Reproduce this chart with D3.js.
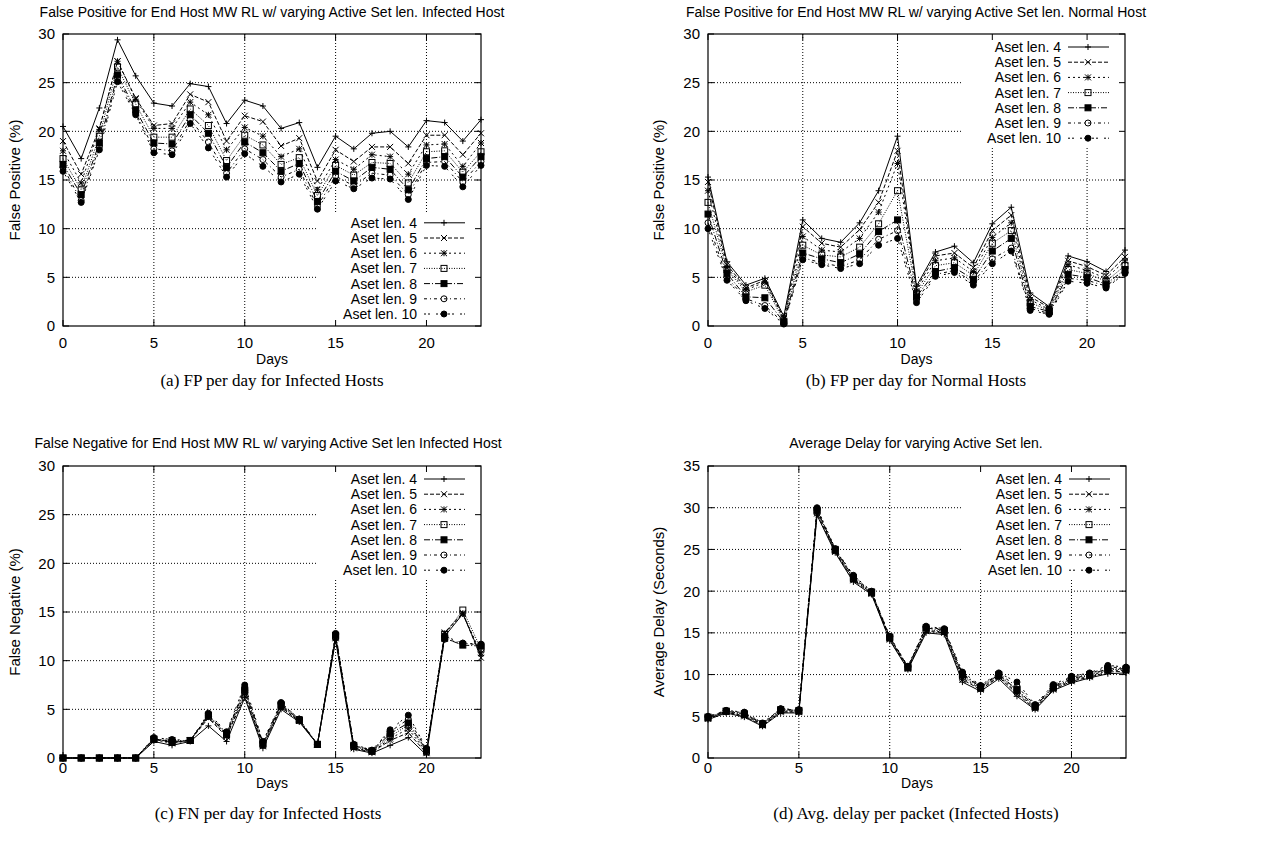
<!DOCTYPE html>
<html>
<head>
<meta charset="utf-8">
<script src="https://cdn.jsdelivr.net/npm/d3@7"></script>
<style>
  body { margin: 0; background: #fff; }
  svg { display: block; }
  text { font-family: "Liberation Sans", Arial, Helvetica, sans-serif; fill: #000; }
  .caption { font-family: "Liberation Serif", "Times New Roman", serif; }
</style>
</head>
<body>
<div id="chart"></div>
<script>
// series names, one per active set length
const asetLabels = ["Aset len. 4", "Aset len. 5", "Aset len. 6", "Aset len. 7", "Aset len. 8", "Aset len. 9", "Aset len. 10"];

const days24 = [0, 1, 2, 3, 4, 5, 6, 7, 8, 9, 10, 11, 12, 13, 14, 15, 16, 17, 18, 19, 20, 21, 22, 23];
const days23 = [0, 1, 2, 3, 4, 5, 6, 7, 8, 9, 10, 11, 12, 13, 14, 15, 16, 17, 18, 19, 20, 21, 22];

const xTicks = [0, 5, 10, 15, 20];
const yTicks30 = [0, 5, 10, 15, 20, 25, 30];
const yTicks35 = [0, 5, 10, 15, 20, 25, 30, 35];

// (a) false positive, infected hosts (rows: aset 4..10)
const fpInfected = [
  [20.5, 17.2, 22.4, 29.4, 25.7, 22.9, 22.6, 24.9, 24.6, 20.8, 23.2, 22.6, 20.3, 20.9, 16.3, 19.5, 18.2, 19.8, 20.0, 18.4, 21.1, 20.9, 19.0, 21.2],
  [19.0, 15.6, 20.3, 27.2, 23.4, 20.6, 20.8, 23.8, 23.0, 19.0, 21.6, 21.0, 18.5, 19.3, 14.9, 18.1, 16.9, 18.4, 18.4, 16.7, 19.6, 19.6, 17.6, 19.8],
  [18.0, 14.7, 20.2, 27.2, 23.3, 20.3, 20.3, 23.0, 21.7, 18.1, 20.4, 19.5, 17.4, 18.2, 14.0, 17.1, 16.1, 17.6, 17.4, 15.6, 18.6, 18.7, 16.4, 18.8],
  [17.2, 14.0, 19.5, 26.6, 22.8, 19.4, 19.4, 22.3, 20.6, 17.0, 19.6, 18.6, 16.6, 17.3, 13.4, 16.5, 15.5, 16.8, 16.7, 14.7, 17.9, 18.0, 15.8, 17.9],
  [16.6, 13.5, 18.8, 25.8, 22.2, 18.8, 18.7, 21.7, 19.8, 16.3, 18.9, 17.8, 15.9, 16.7, 12.8, 15.9, 14.9, 16.3, 16.1, 14.0, 17.2, 17.4, 15.3, 17.4],
  [16.3, 12.9, 18.4, 25.5, 21.9, 18.2, 18.0, 21.2, 18.9, 15.7, 18.2, 17.1, 15.3, 16.1, 12.3, 15.4, 14.4, 15.7, 15.5, 13.5, 16.8, 16.9, 14.8, 16.9],
  [15.9, 12.7, 18.1, 25.1, 21.7, 17.8, 17.6, 20.8, 18.3, 15.3, 17.7, 16.4, 14.8, 15.6, 12.0, 14.9, 14.1, 15.2, 15.1, 13.0, 16.5, 16.4, 14.3, 16.5]
];

// (b) false positive, normal hosts
const fpNormal = [
  [15.3, 6.6, 4.2, 4.9, 1.0, 10.9, 9.0, 8.6, 10.6, 13.9, 19.5, 4.1, 7.6, 8.2, 6.5, 10.5, 12.2, 3.4, 2.0, 7.2, 6.6, 5.6, 7.8],
  [14.8, 6.3, 3.9, 4.7, 0.8, 10.2, 8.5, 8.1, 9.9, 12.7, 18.0, 3.9, 7.2, 7.5, 6.0, 9.8, 11.4, 3.0, 1.9, 6.7, 6.1, 5.2, 7.1],
  [13.9, 6.0, 3.7, 4.5, 0.7, 9.2, 7.8, 7.6, 9.0, 11.7, 16.7, 3.6, 6.7, 7.0, 5.6, 9.1, 10.6, 2.7, 1.7, 6.3, 5.7, 4.9, 6.7],
  [12.7, 5.8, 3.5, 4.2, 0.5, 8.3, 7.3, 7.1, 8.1, 10.5, 13.9, 3.3, 6.2, 6.5, 5.2, 8.5, 9.8, 2.4, 1.6, 5.8, 5.4, 4.6, 6.2],
  [11.5, 5.4, 3.0, 2.9, 0.4, 7.5, 6.9, 6.5, 7.4, 9.7, 10.9, 3.0, 5.6, 6.0, 4.8, 7.7, 9.0, 2.0, 1.5, 5.3, 5.0, 4.3, 5.8],
  [10.6, 5.0, 2.8, 2.1, 0.3, 7.0, 6.5, 6.1, 6.8, 8.9, 9.8, 2.7, 5.3, 5.7, 4.5, 6.9, 8.0, 1.8, 1.3, 4.9, 4.7, 4.1, 5.5],
  [10.0, 4.7, 2.6, 1.8, 0.2, 6.8, 6.3, 5.9, 6.4, 8.3, 9.0, 2.4, 5.1, 5.5, 4.2, 6.4, 7.7, 1.6, 1.2, 4.6, 4.4, 3.9, 5.4]
];

// (c) false negative, infected hosts
const fnInfected = [
  [0, 0, 0, 0, 0, 1.7, 1.3, 1.7, 3.3, 1.7, 6.2, 1.0, 5.0, 3.7, 1.4, 12.1, 0.9, 0.5, 1.3, 2.1, 0.3, 12.5, 14.8, 10.5],
  [0, 0, 0, 0, 0, 2.0, 1.6, 1.8, 4.1, 2.2, 6.4, 1.2, 5.2, 3.8, 1.4, 12.3, 1.0, 0.6, 1.8, 2.6, 0.5, 12.9, 14.9, 10.3],
  [0, 0, 0, 0, 0, 1.9, 1.5, 1.8, 4.2, 2.3, 6.6, 1.3, 5.3, 3.8, 1.4, 12.4, 1.1, 0.6, 2.0, 3.0, 0.6, 12.8, 14.8, 10.8],
  [0, 0, 0, 0, 0, 1.9, 1.8, 1.8, 4.3, 2.4, 6.8, 1.4, 5.4, 3.9, 1.4, 12.5, 1.2, 0.7, 2.2, 3.4, 0.7, 12.7, 15.2, 11.2],
  [0, 0, 0, 0, 0, 1.9, 1.6, 1.8, 4.4, 2.5, 7.0, 1.5, 5.5, 3.9, 1.4, 12.6, 1.3, 0.7, 2.5, 3.6, 0.8, 12.3, 11.6, 11.5],
  [0, 0, 0, 0, 0, 2.0, 1.7, 1.8, 4.4, 2.6, 7.2, 1.6, 5.6, 4.0, 1.4, 12.7, 1.3, 0.8, 2.7, 4.0, 0.9, 12.2, 11.8, 11.6],
  [0, 0, 0, 0, 0, 2.1, 1.9, 1.8, 4.6, 2.7, 7.5, 1.7, 5.7, 4.0, 1.4, 12.8, 1.4, 0.8, 2.9, 4.4, 1.0, 12.5, 11.8, 11.7]
];

// (d) average delay per packet, seconds
const avgDelay = [
  [4.6, 5.4, 4.9, 3.8, 5.4, 5.4, 29.1, 24.6, 21.1, 19.6, 14.1, 10.6, 15.0, 14.8, 9.1, 8.0, 9.5, 7.4, 5.8, 8.1, 9.0, 9.6, 10.1, 10.2],
  [4.7, 5.5, 5.0, 3.9, 5.5, 5.5, 29.3, 24.7, 21.3, 19.7, 14.2, 10.7, 15.2, 15.0, 9.4, 8.2, 9.7, 7.7, 5.9, 8.2, 9.2, 9.7, 10.3, 10.4],
  [4.8, 5.5, 5.1, 4.0, 5.6, 5.6, 29.5, 24.8, 21.4, 19.8, 14.3, 10.8, 15.3, 15.1, 9.6, 8.3, 9.8, 7.9, 6.0, 8.3, 9.3, 9.8, 10.5, 10.5],
  [4.8, 5.6, 5.2, 4.0, 5.7, 5.6, 29.6, 24.9, 21.5, 19.8, 14.4, 10.8, 15.4, 15.2, 9.8, 8.4, 9.9, 8.1, 6.1, 8.4, 9.4, 9.9, 10.6, 10.6],
  [4.9, 5.6, 5.3, 4.1, 5.8, 5.7, 29.7, 25.0, 21.6, 19.9, 14.5, 10.9, 15.6, 15.3, 10.0, 8.5, 10.0, 8.2, 6.2, 8.5, 9.5, 10.0, 10.7, 10.7],
  [4.9, 5.7, 5.4, 4.1, 5.9, 5.7, 29.8, 25.0, 21.8, 19.9, 14.5, 10.9, 15.7, 15.4, 10.1, 8.6, 10.1, 8.6, 6.3, 8.6, 9.7, 10.1, 10.9, 10.8],
  [5.0, 5.7, 5.5, 4.2, 5.9, 5.8, 30.0, 25.1, 21.9, 20.0, 14.6, 11.0, 15.8, 15.5, 10.3, 8.7, 10.2, 9.1, 6.4, 8.8, 9.8, 10.2, 11.1, 10.9]
];

// gnuplot style line dash patterns and point types
const dashes = [null, "4,2", "2,3", "1,1.5", "6,2,1,2", "3,3,1,3", "2,2,2,6"];
const pointTypes = ["plus", "cross", "star", "box", "boxF", "circle", "circleF"];

const W = 1272, H = 850;
const svg = d3.select("#chart").append("svg").attr("width", W).attr("height", H);

const panels = [
  { data: fpInfected, days: days24, xMax: 23, yMax: 30, yTicks: yTicks30,
    left: 63, right: 481, top: 34, bottom: 326, key: "bottom",
    title: "False Positive for End Host MW RL w/ varying Active Set len. Infected Host",
    ylabel: "False Positive (%)", caption: "(a) FP per day for Infected Hosts",
    titleY: 17, tickY: 348, daysY: 364, capY: 386, cx: 272, ylabX: 15 },
  { data: fpNormal, days: days23, xMax: 22, yMax: 30, yTicks: yTicks30,
    left: 708, right: 1125, top: 34, bottom: 326, key: "top",
    title: "False Positive for End Host MW RL w/ varying Active Set len. Normal Host",
    ylabel: "False Positive (%)", caption: "(b) FP per day for Normal Hosts",
    titleY: 17, tickY: 348, daysY: 364, capY: 386, cx: 916, ylabX: 659 },
  { data: fnInfected, days: days24, xMax: 23, yMax: 30, yTicks: yTicks30,
    left: 63, right: 481, top: 466, bottom: 758, key: "top",
    title: "False Negative for End Host MW RL w/ varying Active Set len Infected Host",
    ylabel: "False Negative (%)", caption: "(c) FN per day for Infected Hosts",
    titleY: 448, tickY: 773, daysY: 788, capY: 819, cx: 268, ylabX: 15 },
  { data: avgDelay, days: days24, xMax: 23, yMax: 35, yTicks: yTicks35,
    left: 708, right: 1126, top: 466, bottom: 758, key: "top",
    title: "Average Delay for varying Active Set len.",
    ylabel: "Average Delay (Seconds)", caption: "(d) Avg. delay per packet (Infected Hosts)",
    titleY: 448, tickY: 773, daysY: 788, capY: 819, cx: 916, ylabX: 659 }
];

function drawPoint(g, type, x, y) {
  const s = 3;
  if (type === "plus" || type === "star") {
    g.append("path").attr("d", `M${x - s},${y}H${x + s}M${x},${y - s}V${y + s}`)
      .attr("stroke", "#000").attr("fill", "none");
  }
  if (type === "cross" || type === "star") {
    g.append("path").attr("d", `M${x - s},${y - s}L${x + s},${y + s}M${x - s},${y + s}L${x + s},${y - s}`)
      .attr("stroke", "#000").attr("fill", "none");
  }
  if (type === "box" || type === "boxF") {
    g.append("rect").attr("x", x - s).attr("y", y - s).attr("width", 2 * s).attr("height", 2 * s)
      .attr("stroke", "#000").attr("fill", type === "boxF" ? "#000" : "none");
  }
  if (type === "circle" || type === "circleF") {
    g.append("circle").attr("cx", x).attr("cy", y).attr("r", s)
      .attr("stroke", "#000").attr("fill", type === "circleF" ? "#000" : "none");
  }
}

panels.forEach(p => {
  const g = svg.append("g");
  const x = d3.scaleLinear().domain([0, p.xMax]).range([p.left, p.right]);
  const y = d3.scaleLinear().domain([0, p.yMax]).range([p.bottom, p.top]);

  // grid
  xTicks.filter(t => t > 0 && t < p.xMax).forEach(t => {
    g.append("line").attr("x1", x(t)).attr("x2", x(t)).attr("y1", p.top).attr("y2", p.bottom)
      .attr("stroke", "#000").attr("stroke-dasharray", "1,2");
  });
  p.yTicks.filter(t => t > 0 && t < p.yMax).forEach(t => {
    g.append("line").attr("x1", p.left).attr("x2", p.right).attr("y1", y(t)).attr("y2", y(t))
      .attr("stroke", "#000").attr("stroke-dasharray", "1,2");
  });

  // key area blanks the grid
  const kw = 164, kh = 112;
  const kx = p.right - kw;
  const ky = p.key === "top" ? p.top : p.bottom - kh;
  g.append("rect").attr("x", kx).attr("y", ky).attr("width", kw).attr("height", kh).attr("fill", "#fff");

  // border and inward ticks on all sides
  g.append("rect").attr("x", p.left).attr("y", p.top).attr("width", p.right - p.left).attr("height", p.bottom - p.top)
    .attr("fill", "none").attr("stroke", "#000").attr("stroke-width", 1.2);
  const tl = 6;
  xTicks.forEach(t => {
    g.append("path").attr("d", `M${x(t)},${p.bottom}v${-tl}M${x(t)},${p.top}v${tl}`).attr("stroke", "#000");
    g.append("text").attr("x", x(t)).attr("y", p.tickY).attr("text-anchor", "middle")
      .attr("font-size", 15).text(t);
  });
  p.yTicks.forEach(t => {
    g.append("path").attr("d", `M${p.left},${y(t)}h${tl}M${p.right},${y(t)}h${-tl}`).attr("stroke", "#000");
    g.append("text").attr("x", p.left - 8).attr("y", y(t)).attr("dy", "0.36em").attr("text-anchor", "end")
      .attr("font-size", 15).text(t);
  });

  // labels
  g.append("text").attr("x", p.cx).attr("y", p.titleY).attr("text-anchor", "middle").attr("font-size", 14).text(p.title);
  g.append("text").attr("transform", `translate(${p.ylabX},${(p.top + p.bottom) / 2}) rotate(-90)`)
    .attr("dy", "0.36em").attr("text-anchor", "middle").attr("font-size", 15).text(p.ylabel);
  g.append("text").attr("x", (p.left + p.right) / 2).attr("y", p.daysY).attr("text-anchor", "middle")
    .attr("font-size", 14).text("Days");
  g.append("text").attr("class", "caption").attr("x", p.cx).attr("y", p.capY).attr("text-anchor", "middle")
    .attr("font-size", 17).text(p.caption);

  // series
  const line = d3.line().x((d, i) => x(p.days[i])).y(d => y(d));
  p.data.forEach((vals, k) => {
    const sg = g.append("g");
    sg.append("path").attr("d", line(vals)).attr("fill", "none").attr("stroke", "#000").attr("stroke-width", 1)
      .attr("stroke-dasharray", dashes[k]);
    vals.forEach((v, i) => drawPoint(sg, pointTypes[k], x(p.days[i]), y(v)));
  });

  // key
  const rowH = 15.2;
  const firstRow = p.key === "top" ? p.top + 13 : p.bottom - 12 - 6 * rowH;
  asetLabels.forEach((lab, k) => {
    const ry = firstRow + k * rowH;
    g.append("text").attr("x", kx + 100).attr("y", ry).attr("dy", "0.36em").attr("text-anchor", "end")
      .attr("font-size", 14).text(lab);
    g.append("line").attr("x1", kx + 107).attr("x2", kx + 148).attr("y1", ry).attr("y2", ry)
      .attr("stroke", "#000").attr("stroke-dasharray", dashes[k]);
    drawPoint(g, pointTypes[k], kx + 127, ry);
  });
});
</script>
</body>
</html>
